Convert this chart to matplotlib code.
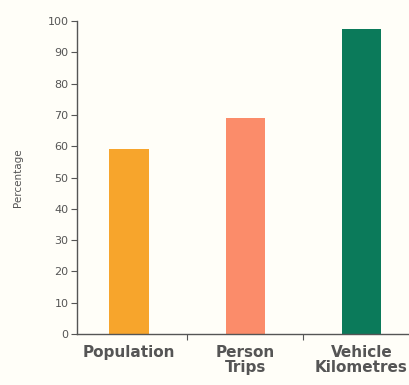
import numpy as np
import matplotlib.pyplot as plt

categories = ["Population", "Person\nTrips", "Vehicle\nKilometres"]
values = [59, 69, 97.5]
bar_colors = ["#F7A52C", "#FB8C6A", "#0B7A5A"]
yticks = list(range(0, 101, 10))

bg = "#FFFEF8"
grey = "#555555"

fig = plt.figure(figsize=(4.09, 3.85), dpi=100, facecolor=bg)
ax = fig.add_axes([0.188, 0.1325, 0.812, 0.8125], facecolor=bg)

x = np.arange(len(categories))
ax.bar(x, values, width=0.34, color=bar_colors)

ax.set_xlim(-0.45, 2.41)
ax.set_ylim(0, 100)
ax.set_yticks(yticks)
ax.tick_params(axis="y", labelsize=8, colors=grey, length=4, width=0.8, pad=2)

# ticks between the bars, labels drawn as text
ax.set_xticks([0.5, 1.5])
ax.set_xticklabels([])
ax.tick_params(axis="x", length=4, width=0.8, colors=grey)
for xi, lab in zip(x, categories):
    ax.text(xi, -3.5, lab, ha="center", va="top", fontsize=11, fontweight="bold",
            color=grey, linespacing=1.0)

for s in ["top", "right"]:
    ax.spines[s].set_visible(False)
for s in ["left", "bottom"]:
    ax.spines[s].set_color(grey)
    ax.spines[s].set_linewidth(1.0)

ax.set_ylabel("Percentage", fontsize=7.5, color=grey, labelpad=18)

fig.savefig("out.png", dpi=100, facecolor=bg)
